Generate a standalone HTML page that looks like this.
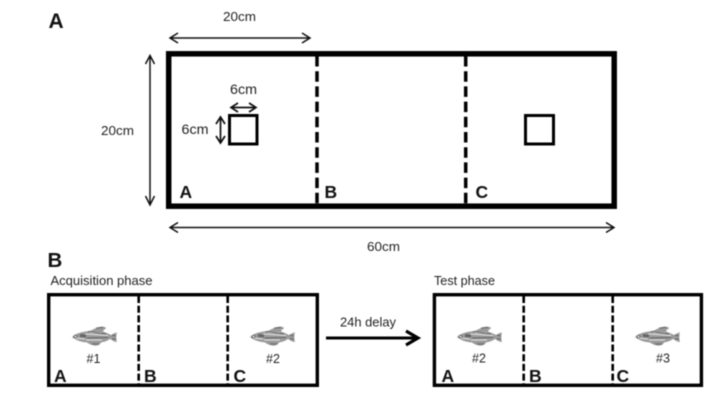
<!DOCTYPE html>
<html><head><meta charset="utf-8"><style>
html,body{margin:0;padding:0;background:#fff}
svg{display:block;filter:blur(.45px)}
text{font-family:"Liberation Sans",sans-serif;fill:#222}
.b{font-weight:bold;fill:#111}
</style></head><body>
<svg width="720" height="411" viewBox="0 0 720 411" xmlns="http://www.w3.org/2000/svg">
<defs>
<g id="fish">
<path d="M0 0C4-4 10-5 17-6C21-7 23-9 27-10C31-11 34-10 34-8.500C32-7.500 31-6.500 31-5.500C34-4.500 37-3 39-2C41-3 43-4.500 45-4.500C44-2 44 2 45 5C42 5 40 3 38 2C35 4 32 5 29 5.500C28 8 25 9 22 8.500C19 8 17 7 15 5.500C9 5 3 3 0 0Z" fill="#9a9a9a"/>
<path d="M3 1L13 2M13-3L36-1.500M14 3L30 3M18-4.500L30-4" stroke="#e4e4e4" stroke-width="1.100" fill="none"/>
<path d="M8-3L14-2.500L14 .5L8 0Z" fill="#666"/>
<path d="M16-5.500L34-3M15 1L36 .5M40-2L44-1M40 2L44 2M24-9L31-9.500M20 7L27 7" stroke="#555" stroke-width=".8" fill="none"/>
<circle cx="3.500" cy="-.5" r="1.300" fill="#fff" stroke="#444" stroke-width=".7"/>
</g>
</defs>

<text x="48.500" y="28" class="b" font-size="21">A</text>
<text x="223" y="21" font-size="13" textLength="33" lengthAdjust="spacingAndGlyphs">20cm</text>
<text x="101" y="135" font-size="13" textLength="33" lengthAdjust="spacingAndGlyphs">20cm</text>
<text x="230" y="94" font-size="14" textLength="27" lengthAdjust="spacingAndGlyphs">6cm</text>
<text x="181.500" y="134" font-size="14" textLength="27" lengthAdjust="spacingAndGlyphs">6cm</text>
<text x="367" y="251" font-size="13" textLength="33" lengthAdjust="spacingAndGlyphs">60cm</text>

<rect x="168.700" y="53.800" width="445.500" height="152.400" fill="none" stroke="#000" stroke-width="5.500"/>
<line x1="317" y1="56" x2="317" y2="204" stroke="#000" stroke-width="3.500" stroke-dasharray="10.500 4.700"/>
<line x1="465.700" y1="56" x2="465.700" y2="204" stroke="#000" stroke-width="3.500" stroke-dasharray="10.500 4.700"/>
<rect x="229.500" y="115.500" width="27.500" height="28.500" fill="#fff" stroke="#000" stroke-width="3"/>
<rect x="525.500" y="115.500" width="28" height="28.500" fill="#fff" stroke="#000" stroke-width="3"/>
<text x="179.500" y="198" class="b" font-size="17.500">A</text>
<text x="324.500" y="198" class="b" font-size="17.500">B</text>
<text x="475.500" y="198" class="b" font-size="17.500">C</text>

<g fill="none" stroke="#111" stroke-width="1.500">
<path d="M171 38H309M178 33L170 38L178 43M302 33L310 38L302 43"/>
<path d="M150 56V204M145.500 64L150 55.500L154.500 64M145.500 196L150 205L154.500 196"/>
<path d="M171 227.500H614M178 222.500L170 227.500L178 232.500M606 222.500L614 227.500L606 232.500"/>
</g>
<g fill="none" stroke="#111" stroke-width="1.700">
<path d="M232 107.500H255M238 103L231 107.500L238 112M249 103L256 107.500L249 112"/>
<path d="M220.500 118V142M216 124L220.500 117L225 124M216 136L220.500 143L225 136"/>
</g>

<text x="47.500" y="267" class="b" font-size="20.500">B</text>
<text x="50.500" y="285" font-size="13" textLength="102" lengthAdjust="spacingAndGlyphs">Acquisition phase</text>
<text x="434" y="285" font-size="13" textLength="61" lengthAdjust="spacingAndGlyphs">Test phase</text>

<rect x="48.700" y="294.700" width="268.600" height="90.600" fill="none" stroke="#000" stroke-width="3.400"/>
<line x1="138.700" y1="296" x2="138.700" y2="385" stroke="#000" stroke-width="2.600" stroke-dasharray="7 2.700"/>
<line x1="227.700" y1="296" x2="227.700" y2="385" stroke="#000" stroke-width="2.600" stroke-dasharray="7 2.700"/>
<rect x="434.400" y="294.700" width="267" height="90.600" fill="none" stroke="#000" stroke-width="3.400"/>
<line x1="523.700" y1="296" x2="523.700" y2="385" stroke="#000" stroke-width="2.600" stroke-dasharray="7 2.700"/>
<line x1="612.700" y1="296" x2="612.700" y2="385" stroke="#000" stroke-width="2.600" stroke-dasharray="7 2.700"/>

<use href="#fish" x="72" y="337"/>
<use href="#fish" x="250" y="337"/>
<use href="#fish" x="457" y="337"/>
<use href="#fish" x="635" y="337"/>

<text x="93.500" y="363" text-anchor="middle" font-size="12.500">#1</text>
<text x="273" y="363" text-anchor="middle" font-size="12.500">#2</text>
<text x="479" y="362.500" text-anchor="middle" font-size="12.500">#2</text>
<text x="663" y="362.500" text-anchor="middle" font-size="12.500">#3</text>

<text x="54" y="382" class="b" font-size="17.500">A</text>
<text x="144" y="382" class="b" font-size="17.500">B</text>
<text x="233.500" y="382" class="b" font-size="17.500">C</text>
<text x="441.500" y="382" class="b" font-size="17.500">A</text>
<text x="529" y="382" class="b" font-size="17.500">B</text>
<text x="616.500" y="382" class="b" font-size="17.500">C</text>

<text x="340" y="326.500" font-size="13" textLength="56" lengthAdjust="spacingAndGlyphs">24h delay</text>
<path d="M326 338H418" stroke="#000" stroke-width="3" fill="none"/>
<path d="M406 331L418 338L406 345" stroke="#000" stroke-width="3.200" fill="none"/>
</svg>
</body></html>
